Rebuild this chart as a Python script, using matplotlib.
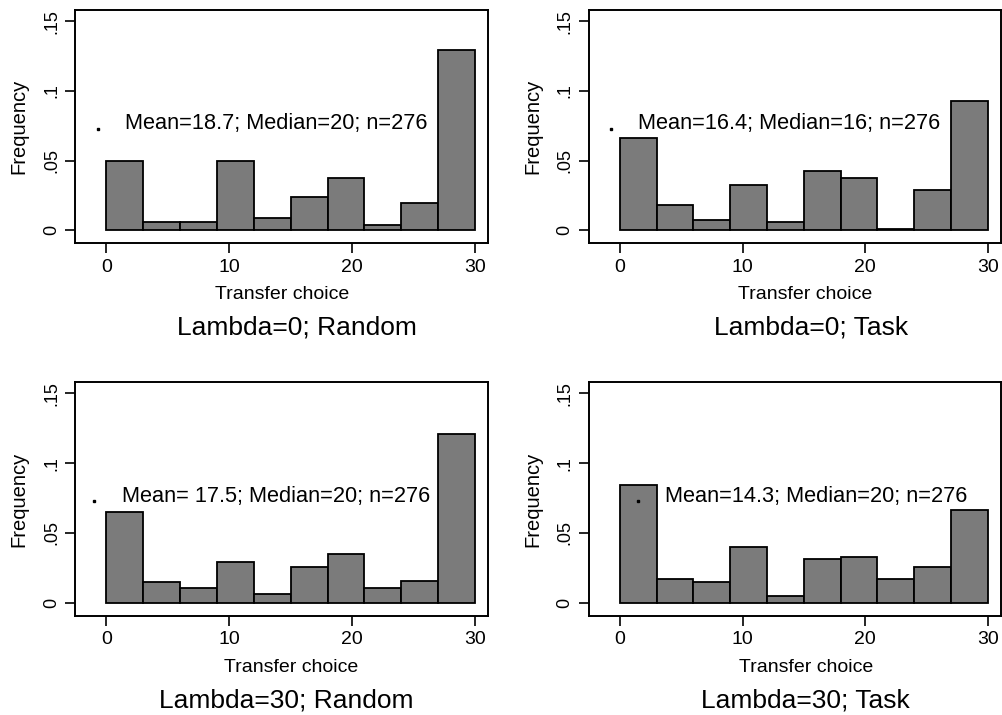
import numpy as np
import matplotlib
matplotlib.use("Agg")
import matplotlib.pyplot as plt

plt.rcParams['font.family'] = ['Liberation Sans', 'DejaVu Sans']

# histogram bins: width 3, from 0 to 30
bin_edges = [0, 3, 6, 9, 12, 15, 18, 21, 24, 27, 30]

# density (Stata "Frequency") per bin
freq_l0_random = [0.0495, 0.0060, 0.0060, 0.0495, 0.0085, 0.0242, 0.0374, 0.0036, 0.0193, 0.1292]
freq_l0_task = [0.0664, 0.0181, 0.0072, 0.0326, 0.0060, 0.0423, 0.0374, 0.0012, 0.0290, 0.0930]
freq_l30_random = [0.0652, 0.0145, 0.0109, 0.0290, 0.0060, 0.0254, 0.0350, 0.0109, 0.0157, 0.1208]
freq_l30_task = [0.0845, 0.0169, 0.0145, 0.0399, 0.0048, 0.0314, 0.0326, 0.0169, 0.0254, 0.0664]

titles = ["Lambda=0; Random", "Lambda=0; Task", "Lambda=30; Random", "Lambda=30; Task"]
notes = ["Mean=18.7; Median=20; n=276", "Mean=16.4; Median=16; n=276",
         "Mean= 17.5; Median=20; n=276", "Mean=14.3; Median=20; n=276"]
# position of the little marker that carries the note
note_x = [-0.7, -0.76, -1.0, 1.44]
note_y = [0.073, 0.073, 0.073, 0.073]

xticks = [0, 10, 20, 30]
yticks = [0, 0.05, 0.1, 0.15]
ytick_labels = ["0", ".05", ".1", ".15"]

all_freq = [freq_l0_random, freq_l0_task, freq_l30_random, freq_l30_task]

fig = plt.figure(figsize=(10.03, 7.15), dpi=100)
W, H = 1003, 715
# axes boxes in pixels: left, top, right, bottom
boxes = [(75.3, 10, 488.3, 243.3), (589, 10, 1001, 243.3),
         (75.3, 382.3, 488.3, 615.7), (589, 382.3, 1001, 615.7)]
xlab_x = [0.5, 0.524, 0.522, 0.526]
title_x = [0.536, 0.538, 0.510, 0.524]

edges = np.array(bin_edges)
for i, (l, t, r, b) in enumerate(boxes):
    ax = fig.add_axes([l / W, 1 - b / H, (r - l) / W, (b - t) / H])
    ax.bar(edges[:-1], all_freq[i], width=np.diff(edges), align='edge',
           color='#7b7b7b', edgecolor='black', linewidth=1.3)
    ax.set_xlim(-2.52, 31.08)
    ax.set_ylim(-0.0093, 0.158)
    ax.set_xticks(xticks)
    ax.set_yticks(yticks)
    ax.set_yticklabels(ytick_labels, rotation=90, va='center')
    ax.tick_params(axis='both', length=7, width=1.2, pad=4)
    ax.tick_params(axis='x', labelsize=14)
    ax.tick_params(axis='y', labelsize=13)
    for s in ax.spines.values():
        s.set_linewidth(1.4)
    ax.plot([note_x[i]], [note_y[i]], marker='s', markersize=1.5, color='black')
    ax.text(note_x[i] + 2.25, note_y[i] + 0.0035, notes[i], fontsize=15.7,
            va='center', ha='left')
    ax.set_xlabel("Transfer choice", fontsize=14)
    ax.xaxis.set_label_coords(xlab_x[i], -0.24)
    ax.xaxis.label.set_va('baseline')
    ax.set_ylabel("Frequency", fontsize=14.5)
    ax.yaxis.set_label_coords(-0.137, 0.5)
    ax.yaxis.label.set_va('center')
    ax.text(title_x[i], -0.392, titles[i], transform=ax.transAxes,
            ha='center', va='baseline', fontsize=19)

fig.savefig("out.png", dpi=100)
